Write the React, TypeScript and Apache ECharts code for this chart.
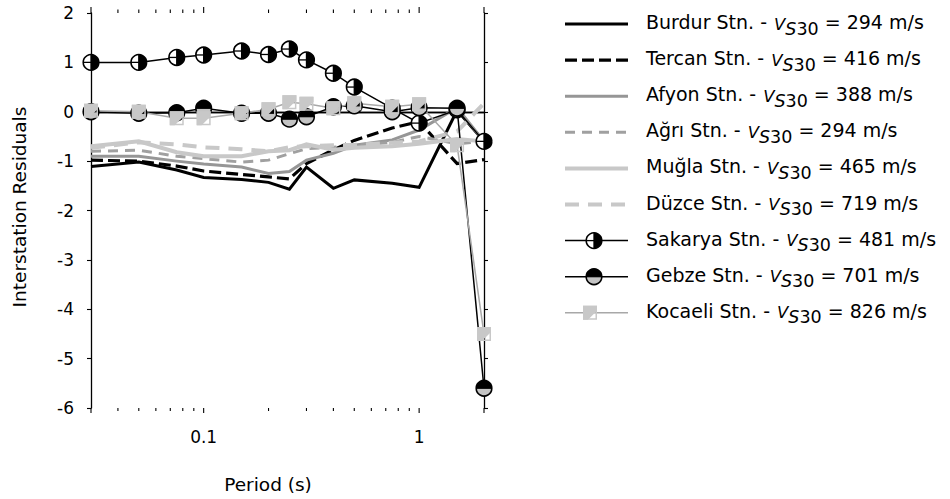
import React, { useEffect, useRef } from "react";
import * as echarts from "echarts";

const FONT = "'DejaVu Sans', 'Liberation Sans', sans-serif";

// Spectral periods (s) at which residuals were computed
const periods = [0.03, 0.05, 0.075, 0.1, 0.15, 0.2, 0.25, 0.3, 0.4, 0.5, 0.75, 1.0, 1.5, 2.0];

// Interstation residuals per station
const burdur = [-1.11, -1.02, -1.18, -1.33, -1.37, -1.43, -1.57, -1.12, -1.55, -1.38, -1.45, -1.53, 0.03, -0.6];
const tercan = [-0.98, -1.0, -1.1, -1.2, -1.27, -1.32, -1.36, -1.05, -0.77, -0.58, -0.33, -0.2, -1.05, -0.97];
const afyon = [-0.9, -0.9, -1.0, -1.06, -1.12, -1.25, -1.21, -0.98, -0.84, -0.68, -0.57, -0.37, 0.08, -0.6];
const agri = [-0.8, -0.78, -0.9, -0.95, -1.02, -0.98, -0.85, -0.75, -0.72, -0.68, -0.62, -0.5, -0.65, -0.6];
const mugla = [-0.7, -0.6, -0.82, -0.9, -0.9, -0.8, -0.78, -0.66, -0.77, -0.73, -0.7, -0.65, -0.55, -0.6];
const duzce = [-0.73, -0.62, -0.66, -0.72, -0.76, -0.8, -0.72, -0.7, -0.68, -0.67, -0.63, -0.6, -0.4, 0.17];
const sakarya = [1.0, 1.0, 1.1, 1.15, 1.23, 1.16, 1.27, 1.05, 0.78, 0.5, 0.07, -0.23, 0.04, -0.6];
const gebze = [0.0, -0.03, -0.02, 0.07, -0.03, -0.03, -0.15, -0.1, 0.1, 0.12, 0.0, 0.08, 0.07, -5.6];
const kocaeli = [0.02, 0.0, -0.13, -0.13, -0.03, 0.05, 0.19, 0.16, 0.07, 0.17, 0.1, 0.15, -0.68, -4.5];

const stationNames = [
  "Burdur Stn.",
  "Tercan Stn.",
  "Afyon Stn.",
  "Ağrı Stn.",
  "Muğla Stn.",
  "Düzce Stn.",
  "Sakarya Stn.",
  "Gebze Stn.",
  "Kocaeli Stn.",
];
const vs30Values = [294, 416, 388, 294, 465, 719, 481, 701, 826];

// Axis ranges and ticks
const periodMin = 0.03;
const periodMax = 2;
const periodMajorTicks = [0.03, 0.1, 1, 2];
const periodMinorTicks = [0.04, 0.05, 0.06, 0.07, 0.08, 0.09, 0.2, 0.3, 0.4, 0.5, 0.6, 0.7, 0.8, 0.9];
const residualMin = -6;
const residualMax = 2;
const residualStep = 1;

type Marker = "none" | "halfRight" | "halfTop" | "square";

const lineStyles = [
  { color: "#000000", width: 3, dash: null as number[] | null, marker: "none" as Marker },
  { color: "#000000", width: 3.2, dash: [12, 5], marker: "none" as Marker },
  { color: "#969696", width: 3, dash: null, marker: "none" as Marker },
  { color: "#a0a0a0", width: 3, dash: [10, 7], marker: "none" as Marker },
  { color: "#c8c8c8", width: 4, dash: null, marker: "none" as Marker },
  { color: "#c8c8c8", width: 4, dash: [14, 9], marker: "none" as Marker },
  { color: "#000000", width: 1.5, dash: null, marker: "halfRight" as Marker },
  { color: "#000000", width: 1.5, dash: null, marker: "halfTop" as Marker },
  { color: "#a8a8a8", width: 1.5, dash: null, marker: "square" as Marker },
];

const seriesValues = [burdur, tercan, afyon, agri, mugla, duzce, sakarya, gebze, kocaeli];

// Circle whose right half is black, left half white with a radius line
function halfRightMarker(cx: number, cy: number, r: number) {
  return [
    { type: "circle", shape: { cx, cy, r }, style: { fill: "#ffffff" } },
    {
      type: "sector",
      shape: { cx, cy, r0: 0, r, startAngle: -Math.PI / 2, endAngle: Math.PI / 2, clockwise: true },
      style: { fill: "#000000" },
    },
    { type: "line", shape: { x1: cx - r, y1: cy, x2: cx, y2: cy }, style: { stroke: "#000", lineWidth: 1.3 } },
    { type: "line", shape: { x1: cx, y1: cy - r, x2: cx, y2: cy + r }, style: { stroke: "#000", lineWidth: 1.3 } },
    { type: "circle", shape: { cx, cy, r }, style: { fill: "none", stroke: "#000", lineWidth: 1.6 } },
  ];
}

// Circle with a black upper half and grey lower half
function halfTopMarker(cx: number, cy: number, r: number) {
  return [
    { type: "circle", shape: { cx, cy, r }, style: { fill: "#c4c4c4" } },
    {
      type: "sector",
      shape: { cx, cy, r0: 0, r, startAngle: Math.PI, endAngle: Math.PI * 2, clockwise: true },
      style: { fill: "#000000" },
    },
    { type: "line", shape: { x1: cx - r, y1: cy, x2: cx + r, y2: cy }, style: { stroke: "#000", lineWidth: 1.2 } },
    { type: "circle", shape: { cx, cy, r }, style: { fill: "none", stroke: "#000", lineWidth: 1.6 } },
  ];
}

// Grey square with an open lower-right corner
function squareMarker(cx: number, cy: number, h: number) {
  const l = cx - h, r = cx + h, t = cy - h, b = cy + h;
  return [
    {
      type: "polygon",
      shape: { points: [[l, t], [r, t], [r, cy - 2], [cx - 2, b], [l, b]] },
      style: { fill: "#c8c8c8" },
    },
    {
      type: "rect",
      shape: { x: l + 0.75, y: t + 0.75, width: 2 * h - 1.5, height: 2 * h - 1.5 },
      style: { fill: "none", stroke: "#c8c8c8", lineWidth: 1.5 },
    },
  ];
}

function markerShapes(kind: Marker, cx: number, cy: number) {
  if (kind === "halfRight") return halfRightMarker(cx, cy, 7.8);
  if (kind === "halfTop") return halfTopMarker(cx, cy, 7.8);
  if (kind === "square") return squareMarker(cx, cy, 7);
  return [];
}

function buildLegend() {
  const items: any[] = [];
  const rowTop = 24;
  const rowStep = 36.1;
  stationNames.forEach((name, i) => {
    const y = rowTop + i * rowStep;
    const st = lineStyles[i];
    items.push({
      type: "line",
      shape: { x1: 565, y1: y, x2: 628, y2: y },
      style: {
        stroke: st.color,
        lineWidth: st.width,
        lineDash: st.dash || undefined,
        lineCap: "butt",
      },
    });
    if (st.marker !== "none") {
      items.push({
        type: "group",
        children: markerShapes(st.marker, st.marker === "square" ? 590 : 594, y),
      });
    }
    items.push({
      type: "text",
      x: 646,
      y: y - 1,
      style: {
        text: `{t|${name} - }{v|V}{s|S}{n|30}{t| = ${vs30Values[i]} m/s}`,
        verticalAlign: "middle",
        align: "left",
        rich: {
          t: { fontSize: 19, fontFamily: FONT, fill: "#000", lineHeight: 21, verticalAlign: "top" },
          v: { fontSize: 16.5, fontFamily: FONT, fontStyle: "italic", fill: "#000", lineHeight: 21, verticalAlign: "top", padding: [3, 0, 0, 1] },
          s: { fontSize: 17.5, fontFamily: FONT, fontStyle: "italic", fill: "#000", lineHeight: 21, verticalAlign: "top", padding: [7, 0, 0, 0] },
          n: { fontSize: 17.5, fontFamily: FONT, fill: "#000", lineHeight: 21, verticalAlign: "top", padding: [7, 0, 0, 0] },
        },
      },
    });
  });
  return items;
}

function isDecade(v: number) {
  const l = Math.log10(v);
  return Math.abs(l - Math.round(l)) < 1e-6;
}

// Tick marks on the bottom and top frame of the log period axis
function periodTickSeries(values: number[], downLen: number, upLen: number) {
  return {
    type: "custom",
    data: values.map((v) => [v, residualMin]),
    clip: false,
    silent: true,
    z: 4,
    renderItem: (_params: any, api: any) => {
      const v = api.value(0);
      const b = api.coord([v, residualMin]);
      const t = api.coord([v, residualMax]);
      const st = { stroke: "#000", lineWidth: 1.1 };
      return {
        type: "group",
        children: [
          { type: "line", shape: { x1: b[0], y1: b[1], x2: b[0], y2: b[1] + downLen }, style: st },
          { type: "line", shape: { x1: t[0], y1: t[1], x2: t[0], y2: t[1] - upLen }, style: st },
        ],
      };
    },
  };
}

export default function App() {
  const ref = useRef<HTMLDivElement>(null);

  useEffect(() => {
    if (!ref.current) return;
    const chart = echarts.init(ref.current, undefined, { renderer: "svg" });

    const series: any[] = [];
    seriesValues.forEach((vals, i) => {
      const st = lineStyles[i];
      const data = periods.map((p, k) => [p, vals[k]]);
      series.push({
        name: stationNames[i],
        type: "line",
        data,
        symbol: "none",
        clip: false,
        lineStyle: { color: st.color, width: st.width, type: st.dash || "solid", cap: "butt", join: "miter" },
        z: 2,
      });
      if (st.marker !== "none") {
        series.push({
          name: stationNames[i] + " markers",
          type: "custom",
          data,
          clip: false,
          z: 3,
          renderItem: (_params: any, api: any) => {
            const pt = api.coord([api.value(0), api.value(1)]);
            return { type: "group", children: markerShapes(st.marker, pt[0], pt[1]) };
          },
        });
      }
    });

    series.push(periodTickSeries(periodMinorTicks, 3, 3.5));
    series.push(periodTickSeries(periodMajorTicks, 5, 6));

    const axisLine = { show: true, lineStyle: { color: "#000", width: 1.3 } };

    chart.setOption({
      animation: false,
      textStyle: { fontFamily: FONT },
      grid: { left: 91, right: 466, top: 13, bottom: 91, containLabel: false },
      xAxis: [
        {
          type: "log",
          logBase: 10,
          min: periodMin,
          max: periodMax,
          position: "bottom",
          axisLine,
          axisTick: { show: false },
          splitLine: { show: false },
          axisLabel: {
            show: true,
            margin: 20,
            fontSize: 17,
            color: "#000",
            fontFamily: FONT,
            showMinLabel: false,
            showMaxLabel: false,
            formatter: (v: number) => (isDecade(v) ? String(+v.toPrecision(6)) : ""),
          },
        },
        {
          type: "log",
          logBase: 10,
          min: periodMin,
          max: periodMax,
          position: "top",
          axisLine,
          axisTick: { show: false },
          splitLine: { show: false },
          axisLabel: { show: false },
        },
      ],
      yAxis: [
        {
          type: "value",
          min: residualMin,
          max: residualMax,
          interval: residualStep,
          position: "left",
          axisLine,
          axisTick: { show: true, length: 4, lineStyle: { color: "#000", width: 1.1 } },
          splitLine: { show: false },
          axisLabel: { margin: 17, fontSize: 17, color: "#000", fontFamily: FONT },
        },
        {
          type: "value",
          min: residualMin,
          max: residualMax,
          interval: residualStep,
          position: "right",
          axisLine,
          axisTick: { show: true, length: 4, lineStyle: { color: "#000", width: 1.1 } },
          splitLine: { show: false },
          axisLabel: { show: false },
        },
      ],
      graphic: [
        {
          type: "text",
          x: 19,
          y: 207,
          rotation: Math.PI / 2,
          style: {
            text: "Interstation Residuals",
            fontSize: 18.5,
            fontFamily: FONT,
            fill: "#000",
            align: "center",
            verticalAlign: "middle",
          },
        },
        {
          type: "text",
          x: 268,
          y: 484,
          style: {
            text: "Period (s)",
            fontSize: 18.5,
            fontFamily: FONT,
            fill: "#000",
            align: "center",
            verticalAlign: "middle",
          },
        },
        ...buildLegend(),
      ],
      series,
    });

    return () => chart.dispose();
  }, []);

  return (
    <div
      ref={ref}
      style={{ position: "fixed", left: 0, top: 0, width: 950, height: 499, background: "#fff" }}
    />
  );
}
